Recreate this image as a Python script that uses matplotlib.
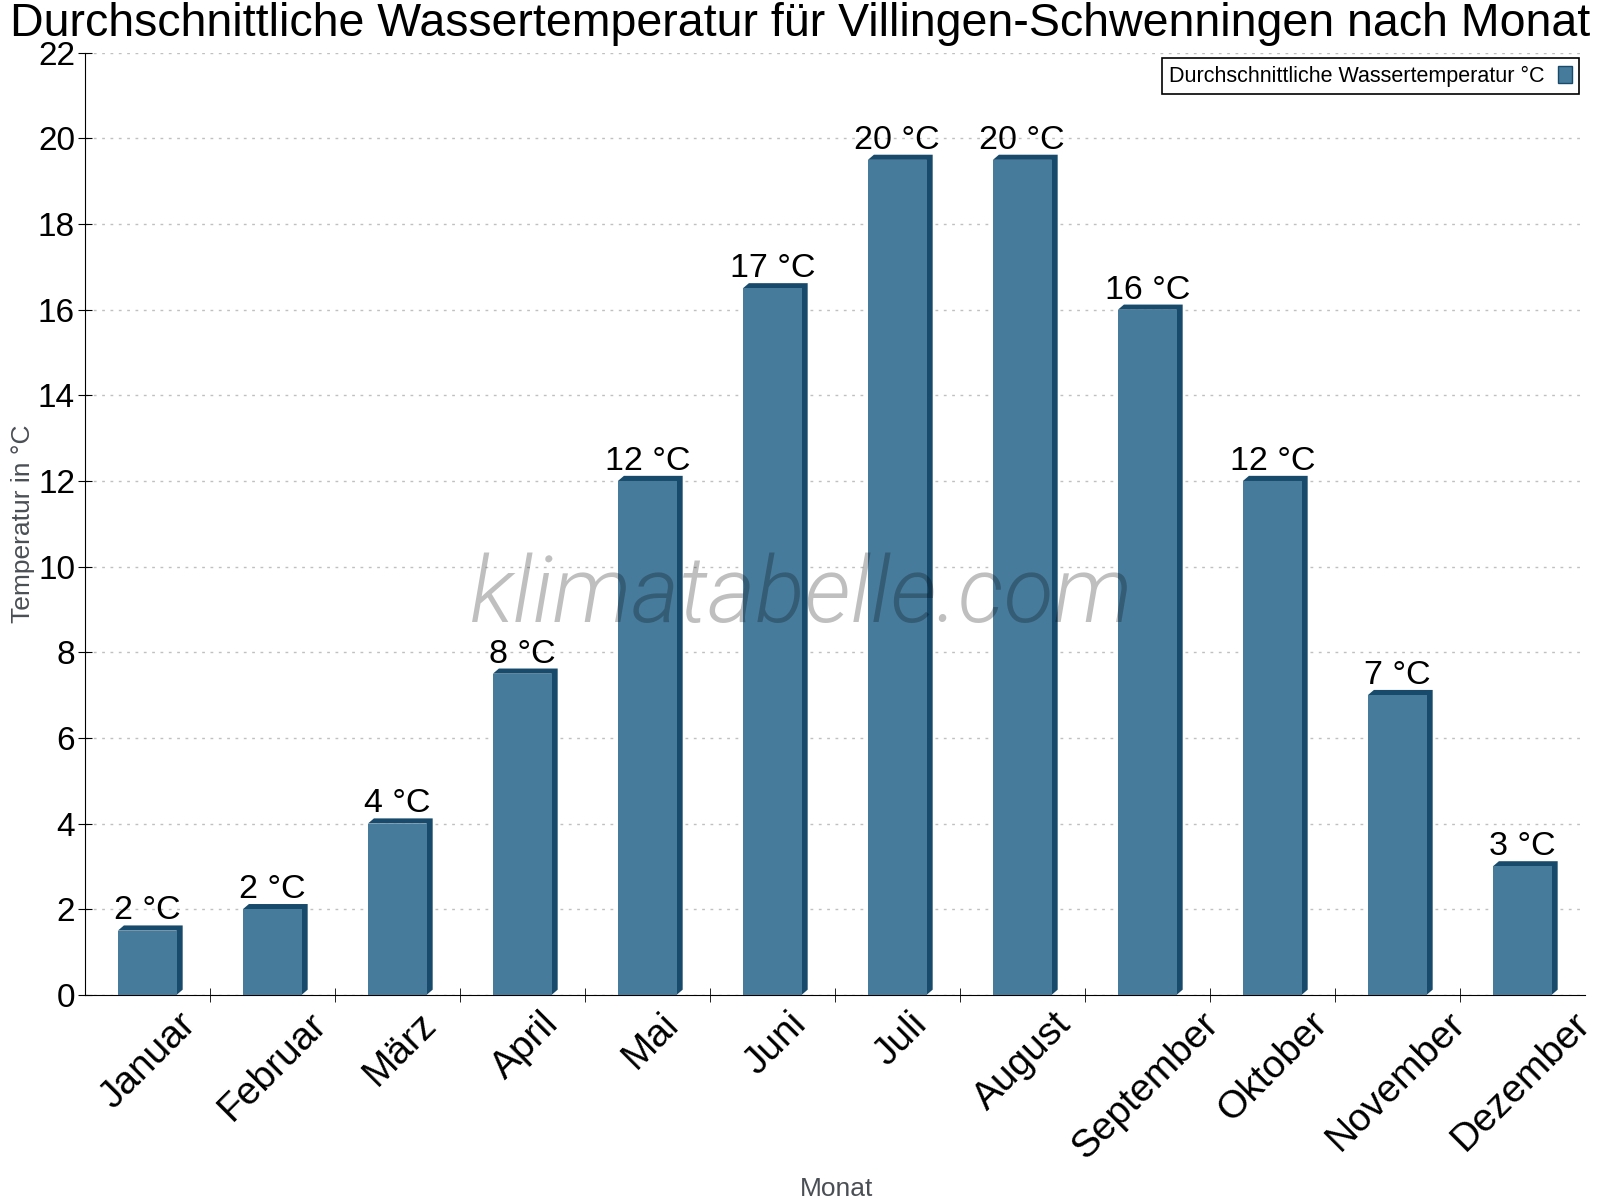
import numpy as np
import matplotlib.pyplot as plt
import matplotlib.transforms as mtransforms
from matplotlib.patches import Polygon

plt.rcParams['font.family'] = ['Liberation Sans', 'DejaVu Sans']

monate = ["Januar", "Februar", "März", "April", "Mai", "Juni", "Juli",
          "August", "September", "Oktober", "November", "Dezember"]
temperatur = [1.5, 2, 4, 7.5, 12, 16.5, 19.5, 19.5, 16, 12, 7, 3]
beschriftung = ["2 °C", "2 °C", "4 °C", "8 °C", "12 °C", "17 °C", "20 °C",
                "20 °C", "16 °C", "12 °C", "7 °C", "3 °C"]

front = "#467b9c"
dunkel = "#174a6b"

fig = plt.figure(figsize=(16, 12), dpi=100)
ax = fig.add_axes([0.053, 0.171, 0.9375, 0.785])

x = np.arange(len(monate))
breite = 0.47
dx = 0.048  # depth in x (data units)
dy = 0.12   # depth in y (data units)

for xi, h in zip(x, temperatur):
    l = xi - breite / 2
    r = xi + breite / 2
    # top and side of the box
    side = Polygon([(l, h), (l + dx, h + dy), (r + dx, h + dy), (r + dx, dy),
                    (r, 0), (r, h)], closed=True, facecolor=dunkel,
                   edgecolor="none", zorder=2)
    ax.add_patch(side)

ax.bar(x, temperatur, width=breite, color=front, zorder=3,
       label="Durchschnittliche Wassertemperatur °C")

for xi, h, t in zip(x, temperatur, beschriftung):
    ax.text(xi, h + dy + 0.14, t, ha="center", va="baseline",
            fontsize=24.5, zorder=4)

ax.set_xlim(-0.5, len(monate) - 0.5)
ax.set_ylim(0, 22)
ax.set_yticks(np.arange(0, 23, 2))
ax.tick_params(axis="y", labelsize=24, length=10, direction="inout", pad=2)
ax.set_xticks(x)
ax.set_xticklabels(monate, rotation=45, ha="right", va="center",
                   rotation_mode="anchor", fontsize=28)
ax.tick_params(axis="x", length=0, pad=17)
ax.set_xticks(np.arange(0.5, len(monate) - 0.5, 1), minor=True)
ax.tick_params(axis="x", which="minor", length=10, direction="inout")

ax.grid(axis="y", color="#c0c0c0", linestyle=(0, (2, 4)), linewidth=1)
ax.set_axisbelow(True)
for s in ["top", "right"]:
    ax.spines[s].set_visible(False)
ax.spines["left"].set_color("black")
ax.spines["bottom"].set_color("black")

ax.set_ylabel("Temperatur in °C", fontsize=19, color="#4a4f55")
ax.set_xlabel("Monat", fontsize=19, color="#4a4f55")
ax.xaxis.set_label_coords(0.501, -0.193)
ax.yaxis.set_label_coords(-0.033, 0.5)
fig.suptitle("Durchschnittliche Wassertemperatur für Villingen-Schwenningen nach Monat",
             fontsize=33.5, y=0.998, va="top", x=0.5)

ax.text(0.478, 0.396, "klimatabelle.com", transform=ax.transAxes, fontsize=66,
        family=["Roboto", "DejaVu Sans"], fontweight=300, style="italic",
        color="black", alpha=0.25, ha="center", va="baseline", zorder=5)

leg = ax.legend(loc="upper right", fontsize=15.5, markerfirst=False,
                fancybox=False, edgecolor="black", framealpha=1,
                handlelength=0.65, handleheight=0.8, borderaxespad=0.25,
                borderpad=0.35, handletextpad=0.6)
leg.get_frame().set_linewidth(1.2)
for p in leg.get_patches():
    p.set_edgecolor(dunkel)

# longer month names sit further to the right, like in the original
fig.canvas.draw()
for lab in ax.get_xticklabels():
    w = lab.get_window_extent().width
    shift = mtransforms.ScaledTranslation((-5 + 0.44 * w) / fig.dpi, 0,
                                          fig.dpi_scale_trans)
    lab.set_transform(lab.get_transform() + shift)

fig.savefig("out.png", dpi=100)
